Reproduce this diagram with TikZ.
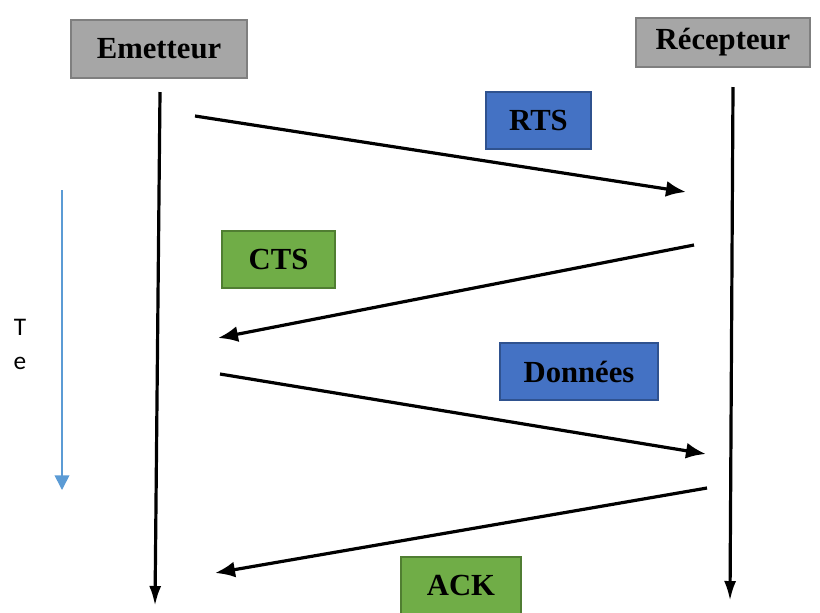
\documentclass[tikz,border=0pt]{standalone}
\usepackage{fontspec}
\setmainfont{Liberation Serif}
\newfontfamily\calibrifont{Carlito}
\usetikzlibrary{arrows.meta}
\definecolor{boxgray}{HTML}{A6A6A6}
\definecolor{boxgrayline}{HTML}{7F7F7F}
\definecolor{boxblue}{HTML}{4472C4}
\definecolor{boxblueline}{HTML}{2F528F}
\definecolor{boxgreen}{HTML}{70AD47}
\definecolor{boxgreenline}{HTML}{507E32}
\definecolor{timeblue}{HTML}{5B9BD5}
\tikzset{
  entity/.style={rectangle, fill=boxgray, draw=boxgrayline, line width=1.5pt, align=center, inner sep=0pt, font=\fontsize{23}{27}\selectfont\bfseries},
  msgblue/.style={rectangle, fill=boxblue, draw=boxblueline, line width=1.5pt, minimum height=42.75pt, align=center, inner sep=0pt, font=\fontsize{23}{27}\selectfont\bfseries},
  msggreen/.style={msgblue, fill=boxgreen, draw=boxgreenline},
  life/.style={-{Latex[length=15pt, width=9pt]}, draw=black, line width=2.4pt},
  msg/.style={-{Latex[length=15pt, width=12pt]}, draw=black, line width=2.4pt},
  timearr/.style={-{Triangle[length=11pt, width=11pt]}, draw=timeblue, line width=1.2pt},
}

\begin{document}
\begin{tikzpicture}[x=0.75pt, y=-0.75pt]
\clip (0,0) rectangle (820,612);
% participants
\node[entity, minimum width=132pt, minimum height=43.5pt] (emet) at (159,49) {Emetteur};
\node[entity, minimum width=130.5pt, minimum height=36.75pt] (recep) at (723,42.5) {Récepteur};
% message labels
\node[msgblue, minimum width=78.75pt] (rts) at (538.5,120.5) {RTS};
\node[msggreen, minimum width=84.75pt] (cts) at (278.5,259.5) {CTS};
\node[msgblue, minimum width=118.5pt] (data) at (579,371.5) {Données};
\node[msggreen, minimum width=90pt] (ack) at (461,585.5) {ACK};
% lifelines
\coordinate (e0) at (160,92);
\coordinate (e1) at (155,606);
\coordinate (r0) at (733,87);
\coordinate (r1) at (730,601);
\draw[life] (e0)--(e1);
\draw[life] (r0)--(r1);
% messages
\coordinate (m1a) at (195,116);
\coordinate (m1b) at (686,192);
\coordinate (m2a) at (694,245);
\coordinate (m2b) at (218,338);
\coordinate (m3a) at (220,374);
\coordinate (m3b) at (706,454);
\coordinate (m4a) at (707,488);
\coordinate (m4b) at (215,573);
\draw[msg] (m1a)--(m1b);
\draw[msg] (m2a)--(m2b);
\draw[msg] (m3a)--(m3b);
\draw[msg] (m4a)--(m4b);
% time axis
\coordinate (t0) at (62,190);
\coordinate (t1) at (62,490);
\draw[timearr] (t0)--(t1);
\node[font=\calibrifont\fontsize{19}{22}\selectfont] (tlabel) at (20,327) {T};
\node[font=\calibrifont\fontsize{19}{22}\selectfont] (elabel) at (20,363) {e};
\end{tikzpicture}
\end{document}
